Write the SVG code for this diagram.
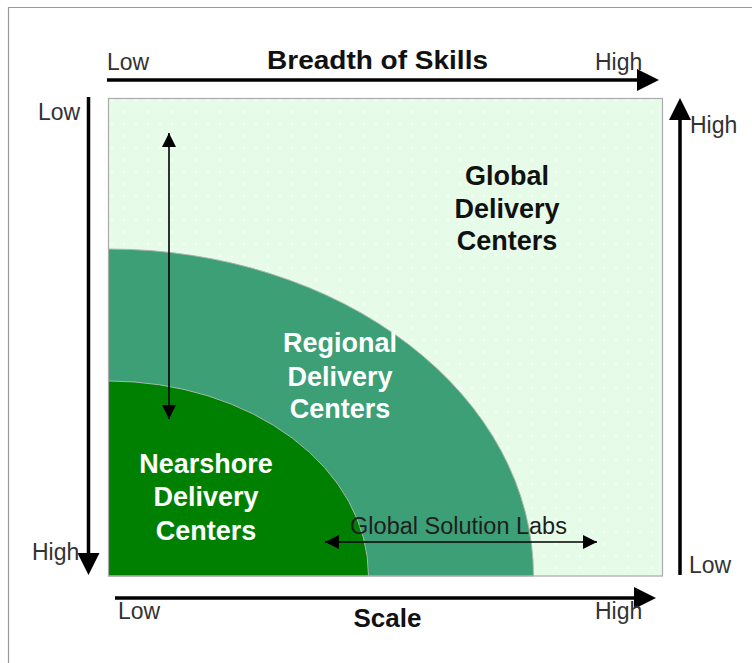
<svg xmlns="http://www.w3.org/2000/svg" width="752" height="663" viewBox="0 0 752 663">
  <defs>
    <pattern id="dots" width="12" height="12" patternUnits="userSpaceOnUse">
      <rect width="12" height="12" fill="#e6fce8"/>
      <circle cx="4" cy="4" r="0.9" fill="#ffffff"/>
    </pattern>
    <!-- large axis arrowhead: tip sits 10px past the line end -->
    <marker id="head" viewBox="0 0 22 22" refX="12" refY="11" markerWidth="22" markerHeight="22" markerUnits="userSpaceOnUse" orient="auto-start-reverse">
      <path d="M0,0 L22,11 L0,22 Z" fill="#000"/>
    </marker>
    <marker id="headSm" viewBox="0 0 10 10" refX="10" refY="5" markerWidth="16" markerHeight="14" markerUnits="userSpaceOnUse" orient="auto-start-reverse">
      <path d="M0,0 L10,5 L0,10 Z" fill="#000"/>
    </marker>
  </defs>
  <style>
    .axis { font-family: "Liberation Sans", Arial, sans-serif; font-size: 23px; fill: #333; }
    .title { font-family: "Liberation Sans", Arial, sans-serif; font-size: 26px; font-weight: bold; fill: #111; text-anchor: middle; }
    .zone { font-family: "Liberation Sans", Arial, sans-serif; font-size: 27px; font-weight: bold; text-anchor: middle; }
    .axisline { stroke: #000; stroke-width: 3.5; fill: none; }
    .thin { stroke: #000; stroke-width: 1.6; fill: none; }
  </style>

  <rect width="752" height="663" fill="#fff"/>
  <!-- outer frame (top and left edges) -->
  <path d="M8.5,663 V7.5 H752" fill="none" stroke="#999" stroke-width="1.2"/>

  <!-- quadrant zones -->
  <g id="global-zone">
    <rect x="108.5" y="98.5" width="554" height="477.5" fill="url(#dots)"/>
    <text class="zone" fill="#111" x="507" y="185">Global</text>
    <text class="zone" fill="#111" x="507" y="218">Delivery</text>
    <text class="zone" fill="#111" x="507" y="250">Centers</text>
  </g>
  <g id="regional-zone">
    <path d="M108.5,249 A425,327 0 0 1 533.5,576 L108.5,576 Z" fill="#3c9f76" stroke="#a8b8ae" stroke-width="1"/>
    <text class="zone" fill="#fff" x="340" y="352">Regional</text>
    <text class="zone" fill="#fff" x="340" y="386">Delivery</text>
    <text class="zone" fill="#fff" x="340" y="418">Centers</text>
  </g>
  <g id="nearshore-zone">
    <path d="M108.5,381 A260,195 0 0 1 368.5,576 L108.5,576 Z" fill="#008000" stroke="#a8b8ae" stroke-width="1"/>
    <text class="zone" fill="#fff" x="206" y="473">Nearshore</text>
    <text class="zone" fill="#fff" x="206" y="506">Delivery</text>
    <text class="zone" fill="#fff" x="206" y="540">Centers</text>
  </g>
  <rect x="108.5" y="98.5" width="554" height="477.5" fill="none" stroke="#aaa" stroke-width="1.2"/>

  <!-- axes and span arrows -->
  <g id="connectors">
    <line class="axisline" x1="107" y1="80" x2="649" y2="80" marker-end="url(#head)"/>
    <line class="axisline" x1="88.5" y1="97" x2="88.5" y2="565" marker-end="url(#head)"/>
    <line class="axisline" x1="680" y1="575" x2="680" y2="108" marker-end="url(#head)"/>
    <line class="axisline" x1="115" y1="598" x2="646" y2="598" marker-end="url(#head)"/>
    <line class="thin" x1="169" y1="133" x2="169" y2="419" marker-start="url(#headSm)" marker-end="url(#headSm)"/>
    <line class="thin" x1="325" y1="542" x2="597" y2="542" marker-start="url(#headSm)" marker-end="url(#headSm)"/>
  </g>

  <g id="labels">
    <text class="title" x="377.5" y="69" textLength="221" lengthAdjust="spacingAndGlyphs">Breadth of Skills</text>
    <text class="title" x="387.5" y="627">Scale</text>
    <text class="axis" x="107" y="70">Low</text>
    <text class="axis" x="595" y="70">High</text>
    <text class="axis" x="38" y="120">Low</text>
    <text class="axis" x="32" y="560">High</text>
    <text class="axis" x="690" y="133">High</text>
    <text class="axis" x="689" y="573">Low</text>
    <text class="axis" x="118" y="619">Low</text>
    <text class="axis" x="595" y="619">High</text>
    <text x="458.5" y="534" text-anchor="middle" font-family="Liberation Sans, Arial, sans-serif" font-size="23.5" fill="#1e1e1e">Global Solution Labs</text>
  </g>
</svg>
